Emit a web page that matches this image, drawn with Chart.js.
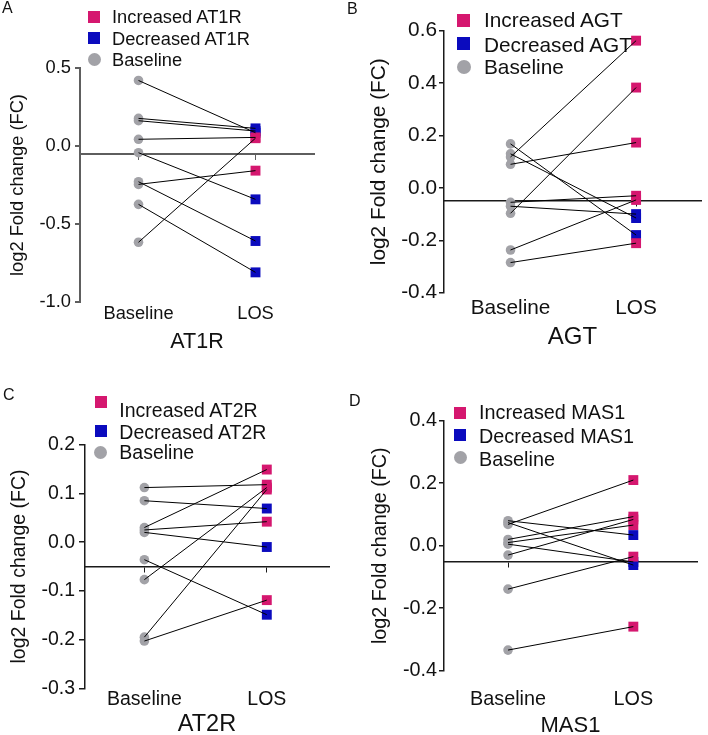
<!DOCTYPE html>
<html>
<head>
<meta charset="utf-8">
<title>log2 fold change, Baseline vs LOS</title>
<script src="https://cdn.jsdelivr.net/npm/chart.js@4.4.1/dist/chart.umd.min.js"></script>
<style>
  body { margin: 0; background: #fff; }
  #fig { position: relative; width: 708px; height: 735px; overflow: hidden;
         font-family: "Liberation Sans", Arial, Helvetica, sans-serif; color: #111; }
  #fig canvas { position: absolute; }
  .txt { position: absolute; white-space: nowrap; line-height: 1.2; }
  .sym { position: absolute; }
</style>
</head>
<body>
<div id="fig"></div>
<script>
const groups = ['Baseline', 'LOS'];
const refLevel = -0.05;

// AT1R (panel A)
const at1rBaseline = [0.42, 0.177, 0.162, 0.043, -0.617, -0.043, -0.246, -0.229, -0.374];
const at1rLos      = [0.085, 0.113, 0.096, 0.055, 0.05, -0.342, -0.158, -0.609, -0.81];
const at1rTicks    = [-1.0, -0.5, 0.0, 0.5];

// AGT (panel B)
const agtBaseline = [0.168, 0.13, 0.118, 0.09, -0.055, -0.07, -0.097, -0.237, -0.285];
const agtLos      = [-0.18, -0.115, 0.562, 0.173, -0.03, -0.10, 0.383, -0.046, -0.211];
const agtTicks    = [-0.4, -0.2, 0.0, 0.2, 0.4, 0.6];

// AT2R (panel C)
const at2rBaseline = [0.112, 0.085, 0.03, 0.025, 0.02, -0.077, -0.195, -0.036, -0.203];
const at2rLos      = [0.118, 0.069, 0.149, 0.042, -0.01, 0.112, 0.108, -0.149, -0.119];
const at2rTicks    = [-0.3, -0.2, -0.1, 0.0, 0.1, 0.2];

// MAS1 (panel D)
const mas1Baseline = [0.068, 0.08, 0.074, 0.02, 0.01, 0.005, -0.03, -0.139, -0.334];
const mas1Los      = [0.21, 0.034, -0.062, 0.093, 0.066, -0.052, 0.084, -0.035, -0.259];
const mas1Ticks    = [-0.4, -0.2, 0.0, 0.2, 0.4];

const FONT = '"Liberation Sans", Arial, Helvetica, sans-serif';
const PINK = '#D5176F';
const BLUE = '#0B0BBE';
const GRAY = '#A2A2A7';
const INK = '#111';

// layout only: where each panel sits in the 708x735 figure
const panels = [
  { letter: 'A', gene: 'AT1R', base: at1rBaseline, los: at1rLos, ticks: at1rTicks,
    box: [0, 0, 354, 365], area: { l: 80, t: 68, r: 314, b: 302 }, xr: [0.5, 2.5],
    fs: 18.3, titleFs: 21.5, yTitleX: 18, titleCY: 341.7, labelPad: 0.5, tickPad: 4, tickLen: 5,
    axis: '#5e5e5e', axisW: 2, letterAt: [2, -1.7],
    legend: { sx: 94, tx: 112, ty: [17.3, 39.3, 60], sy: [17, 38.3, 59.5], sq: 12 } },
  { letter: 'B', gene: 'AGT', base: agtBaseline, los: agtLos, ticks: agtTicks,
    box: [354, 0, 354, 365], area: { l: 444, t: 30.7, r: 708, b: 292.7 }, xr: [0.47, 2.517],
    fs: 20.8, titleFs: 24, yTitleX: 25, titleCY: 337.7, labelPad: 3.5, tickPad: 2, tickLen: 5,
    axis: '#1a1a1a', axisW: 1.5, letterAt: [347, -0.7],
    legend: { sx: 463.5, tx: 484, ty: [20, 45, 67], sy: [20.8, 43.5, 66.7], sq: 13 } },
  { letter: 'C', gene: 'AT2R', base: at2rBaseline, los: at2rLos, ticks: at2rTicks,
    box: [0, 365, 354, 370], area: { l: 85, t: 444.7, r: 329, b: 688.3 }, xr: [0.515, 2.508],
    fs: 19.5, titleFs: 23.5, yTitleX: 20, titleCY: 725, labelPad: 0, tickPad: 4, tickLen: 6,
    axis: '#1a1a1a', axisW: 1.5, letterAt: [3, 384.6],
    legend: { sx: 100.5, tx: 119.3, ty: [410.8, 432.5, 452.8], sy: [401.7, 431.3, 452.3], sq: 12 } },
  { letter: 'D', gene: 'MAS1', base: mas1Baseline, los: mas1Los, ticks: mas1Ticks,
    box: [354, 365, 354, 370], area: { l: 444, t: 420.7, r: 697, b: 670.7 }, xr: [0.489, 2.508],
    fs: 19.8, titleFs: 22, yTitleX: 26.7, titleCY: 726, labelPad: 16.5, tickPad: 2, tickLen: 5,
    axis: '#1a1a1a', axisW: 1.5, letterAt: [349, 391.3],
    legend: { sx: 460, tx: 479, ty: [412.5, 437, 459.5], sy: [412.5, 435.3, 457.5], sq: 12 } }
];

const fig = document.getElementById('fig');

function addText(text, left, top, size) {
  const d = document.createElement('div');
  d.className = 'txt';
  d.style.left = left + 'px';
  d.style.top = top + 'px';
  d.style.fontSize = size + 'px';
  d.textContent = text;
  fig.appendChild(d);
}

function addSymbol(cx, cy, size, color, round) {
  const s = document.createElement('div');
  s.className = 'sym';
  s.style.left = (cx - size / 2) + 'px';
  s.style.top = (cy - size / 2) + 'px';
  s.style.width = size + 'px';
  s.style.height = size + 'px';
  s.style.background = color;
  if (round) s.style.borderRadius = '50%';
  fig.appendChild(s);
}

function onlyGroupTicks(scale) {
  scale.ticks = groups.map((g, i) => ({ value: i + 1 }));
}

function drawPanel(p) {
  const [bx, by, bw, bh] = p.box;
  const cv = document.createElement('canvas');
  cv.width = bw;
  cv.height = bh;
  cv.style.left = bx + 'px';
  cv.style.top = by + 'px';
  fig.appendChild(cv);

  const yWidth = p.area.l - bx;
  const xHeight = by + bh - p.area.b;
  const titleLh = p.titleFs * 1.2;
  const titlePadBottom = by + bh - p.titleCY - titleLh / 2;
  const yTitlePad = p.yTitleX - p.fs * 1.2 / 2;
  const font = { family: FONT, size: p.fs };

  // one black segment per subject, Baseline -> LOS
  const pairs = p.base.map((b, i) => ({
    data: [{ x: 1, y: b }, { x: 2, y: p.los[i] }],
    showLine: true, borderColor: '#000', borderWidth: 1, pointRadius: 0, order: 0
  }));
  const inc = [], dec = [];
  p.los.forEach((v, i) => (v > p.base[i] ? inc : dec).push({ x: 2, y: v }));

  new Chart(cv, {
    type: 'scatter',
    data: {
      datasets: [
        ...pairs,
        { label: 'Baseline', data: p.base.map(v => ({ x: 1, y: v })), pointStyle: 'circle',
          pointRadius: 4.8, backgroundColor: GRAY, borderWidth: 0, order: 1 },
        { label: 'Increased ' + p.gene, data: inc, pointStyle: 'rect',
          pointRadius: 7, backgroundColor: PINK, borderWidth: 0, order: 2 },
        { label: 'Decreased ' + p.gene, data: dec, pointStyle: 'rect',
          pointRadius: 7, backgroundColor: BLUE, borderWidth: 0, order: 2 }
      ]
    },
    options: {
      responsive: false,
      animation: false,
      events: [],
      clip: false,
      layout: { padding: { left: 0, top: p.area.t - by, right: bx + bw - p.area.r, bottom: 0 } },
      plugins: { legend: { display: false }, tooltip: { enabled: false } },
      scales: {
        x: {
          type: 'linear', axis: 'x', position: { y: refLevel },
          min: p.xr[0], max: p.xr[1],
          afterBuildTicks: onlyGroupTicks,
          ticks: { display: false },
          grid: { drawOnChartArea: false, drawTicks: true, tickLength: 5, color: p.axis, lineWidth: 1 },
          border: { display: true, color: p.axis, width: p.axisW }
        },
        xb: {
          type: 'linear', axis: 'x', position: 'bottom',
          min: p.xr[0], max: p.xr[1],
          afterBuildTicks: onlyGroupTicks,
          afterFit: s => { s.height = xHeight; },
          ticks: { callback: v => groups[v - 1], font: font, color: INK, padding: p.labelPad, maxRotation: 0 },
          grid: { display: false, drawTicks: false },
          border: { display: false },
          title: { display: true, text: p.gene, color: INK,
                   font: { family: FONT, size: p.titleFs },
                   padding: { top: 0, bottom: titlePadBottom } }
        },
        y: {
          type: 'linear', position: 'left',
          min: p.ticks[0], max: p.ticks[p.ticks.length - 1],
          afterBuildTicks: s => { s.ticks = p.ticks.map(v => ({ value: v })); },
          afterFit: s => { s.width = yWidth; },
          ticks: { callback: v => Number(v).toFixed(1), font: font, color: INK, padding: p.tickPad },
          grid: { drawOnChartArea: false, drawTicks: true, tickLength: p.tickLen, color: p.axis, lineWidth: p.axisW },
          border: { display: true, color: p.axis, width: p.axisW },
          title: { display: true, text: 'log2 Fold change (FC)', color: INK, font: font,
                   padding: { top: yTitlePad, bottom: 0 } }
        }
      }
    }
  });

  // legend and panel letter as plain text
  const lg = p.legend;
  const names = ['Increased ' + p.gene, 'Decreased ' + p.gene, 'Baseline'];
  const cols = [PINK, BLUE, GRAY];
  names.forEach((n, i) => {
    addSymbol(lg.sx, lg.sy[i], i === 2 ? lg.sq + 1 : lg.sq, cols[i], i === 2);
    addText(n, lg.tx, lg.ty[i] - p.fs * 0.6, p.fs);
  });
  addText(p.letter, p.letterAt[0], p.letterAt[1], 16);
}

panels.forEach(drawPanel);
</script>
</body>
</html>
